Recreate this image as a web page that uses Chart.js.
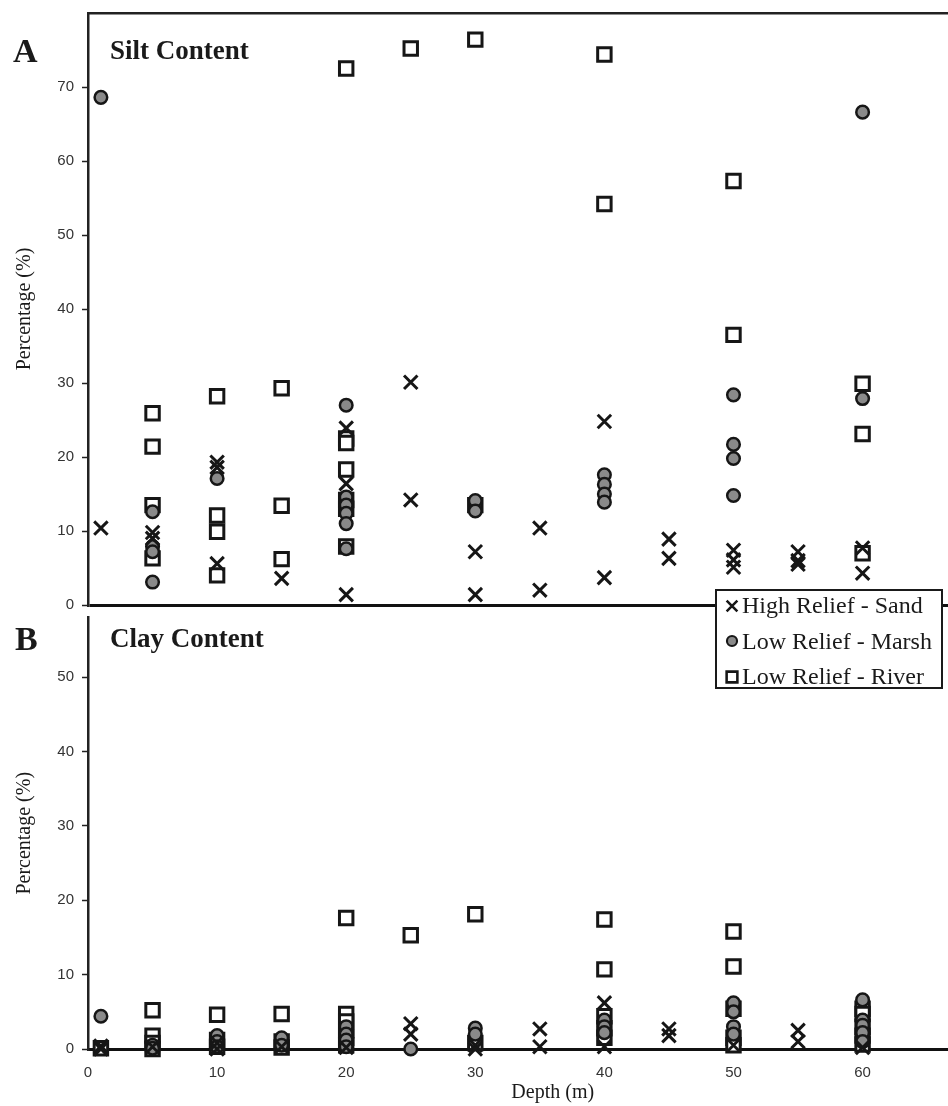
<!DOCTYPE html>
<html>
<head>
<meta charset="utf-8">
<script src="https://cdn.jsdelivr.net/npm/chart.js@4.4.1/dist/chart.umd.min.js"></script>
<style>
html, body { margin: 0; padding: 0; background: #fff; overflow: hidden; }
#wrap { position: relative; width: 948px; height: 1106px; overflow: hidden; }
#wrap > canvas { position: absolute; left: 0; }
#siltChart { top: 0; }
#clayChart { top: 605px; }
.lbl { position: absolute; font-family: "Liberation Serif", serif; font-weight: bold; line-height: 1; color: #1a1a1a; white-space: nowrap; }
.panel { font-size: 34px; }
.ttl { font-size: 27px; }
#legend { position: absolute; left: 715px; top: 589px; width: 224px; height: 96px; background: #fff; border: 2px solid #1a1a1a;
  font-family: "Liberation Serif", serif; font-size: 24px; color: #1a1a1a; padding: 0; }
#legend .row { display: flex; align-items: center; height: 35.5px; white-space: nowrap; position: relative; top: -3px; }
#legend canvas { margin: 0 1px 0 6px; }
</style>
</head>
<body>
<div id="wrap">
  <canvas id="siltChart" width="1030" height="620"></canvas>
  <canvas id="clayChart" width="1030" height="501"></canvas>
  <div class="lbl panel" style="left:13px; top:34px;">A</div>
  <div class="lbl ttl" style="left:110px; top:37px;">Silt Content</div>
  <div class="lbl panel" style="left:15px; top:622px;">B</div>
  <div class="lbl ttl" style="left:110px; top:625px;">Clay Content</div>
  <div id="legend"></div>
</div>
<script>
// tick labels
const depthTicks = [0, 10, 20, 30, 40, 50, 60];
const siltTicks = [0, 10, 20, 30, 40, 50, 60, 70];
const clayTicks = [0, 10, 20, 30, 40, 50];

const seriesNames = [
  "High Relief - Sand",
  "Low Relief - Marsh",
  "Low Relief - River"
];

// silt content, [depth (m), percentage]
const siltSand = [
  [1, 10.4],
  [5, 9.8], [5, 9.0],
  [10, 19.3], [10, 18.6], [10, 5.6],
  [15, 3.6],
  [20, 23.9], [20, 16.4], [20, 1.4],
  [25, 30.1], [25, 14.2],
  [30, 7.2], [30, 1.4],
  [35, 10.4], [35, 2.0],
  [40, 24.8], [40, 3.7],
  [45, 8.9], [45, 6.3],
  [50, 7.4], [50, 6.1], [50, 5.1],
  [55, 7.2], [55, 6.0], [55, 5.5],
  [60, 7.7], [60, 4.3]
];

const siltMarsh = [
  [1, 68.6],
  [5, 12.6], [5, 7.9], [5, 7.2], [5, 3.1],
  [10, 17.1],
  [20, 27.0], [20, 14.6], [20, 13.5], [20, 12.4], [20, 11.0], [20, 7.6],
  [30, 14.1], [30, 12.7],
  [40, 17.6], [40, 16.3], [40, 15.0], [40, 13.9],
  [50, 28.4], [50, 21.7], [50, 19.8], [50, 14.8],
  [60, 66.6], [60, 27.9]
];

const siltRiver = [
  [5, 25.9], [5, 21.4], [5, 13.5], [5, 6.3],
  [10, 28.2], [10, 12.1], [10, 9.9], [10, 4.0],
  [15, 29.3], [15, 13.4], [15, 6.2],
  [20, 72.5], [20, 22.5], [20, 21.9], [20, 18.3], [20, 14.2], [20, 13.0], [20, 7.9],
  [25, 75.2],
  [30, 76.4], [30, 13.5],
  [40, 74.4], [40, 54.2],
  [50, 57.3], [50, 36.5],
  [60, 29.9], [60, 23.1], [60, 7.0]
];

// clay content, [depth (m), percentage]
const claySand = [
  [1, 0.4], [1, 0.0],
  [5, 0.3],
  [10, 0.8], [10, 0.0],
  [15, 0.3],
  [20, 0.2],
  [25, 3.4], [25, 2.0],
  [30, 0.5], [30, 0.0],
  [35, 2.7], [35, 0.3],
  [40, 6.2], [40, 0.3],
  [45, 2.7], [45, 1.8],
  [50, 0.5],
  [55, 2.5], [55, 1.0],
  [60, 0.2]
];

const clayMarsh = [
  [1, 4.4],
  [5, 0.5], [5, 0.1],
  [10, 1.8], [10, 1.0], [10, 0.3],
  [15, 1.5], [15, 0.5],
  [20, 3.0], [20, 2.0], [20, 1.2], [20, 0.3],
  [25, 0.0],
  [30, 2.8], [30, 2.0],
  [40, 3.9], [40, 3.0], [40, 2.2],
  [50, 6.2], [50, 5.0], [50, 3.0], [50, 2.0],
  [60, 6.6], [60, 3.9], [60, 3.2], [60, 2.2], [60, 1.0]
];

const clayRiver = [
  [1, 0.1],
  [5, 5.2], [5, 1.8], [5, 0.8], [5, 0.0],
  [10, 4.6], [10, 1.2], [10, 0.3],
  [15, 4.7], [15, 1.0], [15, 0.2],
  [20, 17.6], [20, 4.7], [20, 3.7], [20, 2.5], [20, 1.5], [20, 0.5],
  [25, 15.3],
  [30, 18.1], [30, 0.8],
  [40, 17.4], [40, 10.7], [40, 4.4], [40, 2.8], [40, 1.5],
  [50, 15.8], [50, 11.1], [50, 5.4], [50, 1.5], [50, 0.5],
  [60, 5.4], [60, 4.7], [60, 3.0], [60, 1.8], [60, 0.6]
];

const ink = "#161616";
const markers = [
  { pointStyle: "crossRot", pointRadius: 9.5, borderWidth: 3, borderColor: ink, backgroundColor: ink },
  { pointStyle: "circle", pointRadius: 6.3, borderWidth: 2.5, borderColor: ink, backgroundColor: "#8a8a8a" },
  { pointStyle: "rect", pointRadius: 9.5, borderWidth: 3, borderColor: ink, backgroundColor: "#ffffff" }
];

const tickFont = { family: "Liberation Sans", size: 15 };
const titleFont = { family: "Liberation Serif", size: 20 };

function makeDatasets(groups) {
  return groups.map((pts, i) => Object.assign({
    label: seriesNames[i],
    data: pts.map(p => ({ x: p[0], y: p[1] })),
    pointHoverRadius: markers[i].pointRadius,
    clip: false
  }, markers[i]));
}

function yAxis(max, ticksList) {
  return {
    min: 0,
    max: max,
    afterBuildTicks: s => { s.ticks = ticksList.map(v => ({ value: v })); },
    afterFit: s => { s.width = 88; s.paddingTop = 0; s.paddingBottom = 0; },
    border: { display: true, color: "#222", width: 2.5 },
    grid: {
      color: c => (c.tick && c.tick.value === 0) ? "#111" : "rgba(0,0,0,0)",
      lineWidth: c => (c.tick && c.tick.value === 0) ? 3 : 1,
      tickColor: "#222",
      tickLength: 6,
      tickWidth: 1.5
    },
    ticks: { padding: 8, color: "#333", font: tickFont },
    title: {
      display: true,
      text: "Percentage (%)",
      color: "#1a1a1a",
      font: titleFont,
      padding: { top: 13, bottom: 0 }
    }
  };
}

// A: silt
new Chart(document.getElementById("siltChart"), {
  type: "scatter",
  data: { datasets: makeDatasets([siltSand, siltMarsh, siltRiver]) },
  options: {
    responsive: false,
    animation: false,
    events: [],
    layout: { padding: { top: 13, bottom: 15, left: 0, right: 0 } },
    plugins: { legend: { display: false }, tooltip: { enabled: false } },
    scales: {
      x: {
        type: "linear",
        position: "top",
        min: 0,
        max: 72,
        afterFit: s => { s.height = 0; s.paddingLeft = 0; s.paddingRight = 0; },
        ticks: { display: false },
        grid: { display: false, drawTicks: false },
        border: { display: true, color: "#222", width: 2.5 }
      },
      y: yAxis(80, siltTicks)
    }
  }
});

// B: clay
new Chart(document.getElementById("clayChart"), {
  type: "scatter",
  data: { datasets: makeDatasets([claySand, clayMarsh, clayRiver]) },
  options: {
    responsive: false,
    animation: false,
    events: [],
    layout: { padding: 0 },
    plugins: { legend: { display: false }, tooltip: { enabled: false } },
    scales: {
      x: {
        type: "linear",
        position: "bottom",
        min: 0,
        max: 72,
        afterBuildTicks: s => { s.ticks = depthTicks.map(v => ({ value: v })); },
        afterFit: s => { s.height = 57; s.paddingLeft = 0; s.paddingRight = 0; },
        grid: { display: false, drawTicks: false },
        border: { display: true, color: "#111", width: 3 },
        ticks: { padding: 15, color: "#333", font: tickFont },
        title: {
          display: true,
          text: "Depth (m)",
          color: "#1a1a1a",
          font: titleFont,
          padding: { top: 0, bottom: 1 }
        }
      },
      y: yAxis(58, clayTicks)
    }
  }
});

// legend box, markers drawn with the library's own point helper
const legend = document.getElementById("legend");
seriesNames.forEach((name, i) => {
  const row = document.createElement("div");
  row.className = "row";
  const c = document.createElement("canvas");
  c.width = 18;
  c.height = 18;
  const ctx = c.getContext("2d");
  ctx.fillStyle = markers[i].backgroundColor;
  ctx.strokeStyle = markers[i].borderColor;
  ctx.lineWidth = markers[i].borderWidth * 0.85;
  if (Chart.helpers && Chart.helpers.drawPoint) {
    Chart.helpers.drawPoint(ctx, {
      pointStyle: markers[i].pointStyle,
      radius: markers[i].pointRadius * 0.8,
      rotation: 0,
      borderWidth: markers[i].borderWidth * 0.85
    }, 9, 9);
  }
  const span = document.createElement("span");
  span.textContent = name;
  row.appendChild(c);
  row.appendChild(span);
  legend.appendChild(row);
});
</script>
</body>
</html>
